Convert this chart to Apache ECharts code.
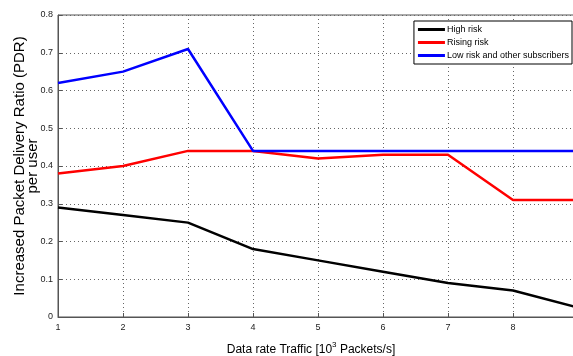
<!DOCTYPE html>
<html>
<head>
<meta charset="utf-8">
<script src="https://cdn.jsdelivr.net/npm/echarts@6/dist/echarts.min.js"></script>
<style>
  html, body { margin: 0; padding: 0; background: #fff; }
  #chart { width: 573px; height: 356px; }
</style>
</head>
<body>
<div id="chart"></div>
<script>
// x: data rate traffic (10^3 packets/s)
const rates = [1, 2, 3, 4, 5, 6, 7, 8, 9]
const highRisk = [0.29, 0.27, 0.25, 0.18, 0.15, 0.12, 0.09, 0.07, 0.025]
const risingRisk = [0.38, 0.40, 0.44, 0.44, 0.42, 0.43, 0.43, 0.31, 0.31]
const lowRisk = [0.62, 0.65, 0.71, 0.44, 0.44, 0.44, 0.44, 0.44, 0.44]
const seriesNames = ['High risk', 'Rising risk', 'Low risk and other subscribers']
const colors = ['#000000', '#ff0000', '#0000ff']

const pairs = arr => rates.map((x, i) => [x, arr[i]])

const myChart = echarts.init(document.getElementById('chart'))

const option = {
  animation: false,
  grid: {
    left: 58,
    right: -5,
    top: 15,
    bottom: 39,
    outerBoundsMode: 'none',
    show: true,
    borderColor: '#555',
    borderWidth: 1
  },
  legend: {
    orient: 'vertical',
    right: 1,
    top: 21,
    data: seriesNames,
    icon: 'rect',
    itemWidth: 27,
    itemHeight: 3,
    itemGap: 4,
    padding: [4, 3, 4, 4],
    borderColor: '#000',
    borderWidth: 1,
    backgroundColor: '#fff',
    textStyle: { fontFamily: 'Liberation Sans', fontSize: 9, color: '#000', padding: [0, 0, 0, -3], letterSpacing: -0.15 }
  },
  xAxis: {
    type: 'value',
    min: 1,
    max: 9,
    interval: 1,
    name: '{a|Data rate Traffic [10}{s|3}{a| Packets/s]}',
    nameLocation: 'middle',
    nameGap: 24,
    nameTextStyle: {
      padding: [0, 14, 0, 0],
      rich: {
        a: { fontFamily: 'Liberation Sans', fontSize: 12, color: '#000' },
        s: { fontFamily: 'Liberation Sans', fontSize: 8, color: '#000', verticalAlign: 'top', padding: [0, 0, 10, 0] }
      }
    },
    axisLine: { show: true, lineStyle: { color: '#555' } },
    axisTick: { show: true, inside: true, length: 4, lineStyle: { color: '#555' } },
    axisLabel: { fontFamily: 'Liberation Sans', fontSize: 9, color: '#222', margin: 6 },
    splitLine: { show: true, lineStyle: { type: [1, 3], color: '#666' } }
  },
  yAxis: {
    type: 'value',
    min: 0,
    max: 0.8,
    interval: 0.1,
    name: 'Increased Packet Delivery Ratio (PDR)\nper user',
    nameLocation: 'middle',
    nameGap: 19,
    nameMoveOverlap: false,
    nameTextStyle: { fontFamily: 'Liberation Sans', fontSize: 15, color: '#000', lineHeight: 13 },
    axisLine: { show: true, lineStyle: { color: '#555' } },
    axisTick: { show: true, inside: true, length: 4, lineStyle: { color: '#555' } },
    axisLabel: {
      fontFamily: 'Liberation Sans', fontSize: 9, color: '#222', margin: 5,
      formatter: v => (v === 0 ? '0' : v.toFixed(1))
    },
    splitLine: { show: true, lineStyle: { type: [1, 3], color: '#666' } }
  },
  series: [highRisk, risingRisk, lowRisk].map((arr, i) => ({
    name: seriesNames[i],
    type: 'line',
    data: pairs(arr),
    showSymbol: false,
    symbol: 'none',
    lineStyle: { width: 2.5, color: colors[i] },
    itemStyle: { color: colors[i] }
  }))
}

myChart.setOption(option)
</script>
</body>
</html>
